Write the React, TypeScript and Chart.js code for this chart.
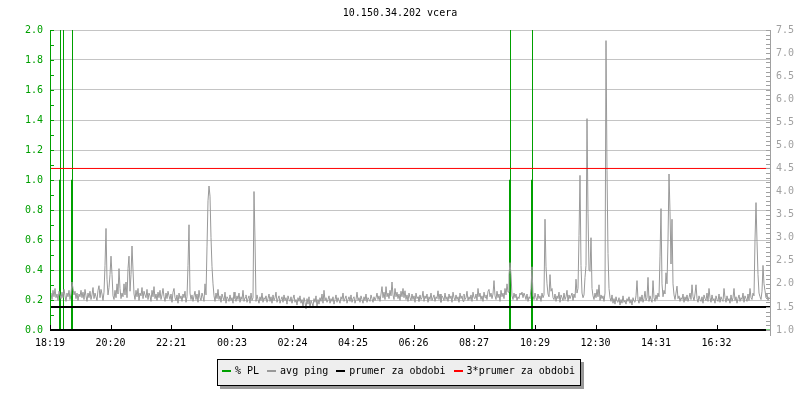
import React, { useEffect, useRef } from "react";
import { Chart, registerables } from "chart.js";

Chart.register(...registerables);

const TITLE = "10.150.34.202 vcera";
const START_TIME = "18:19";
const SPAN_MINUTES = 1440;

// x-axis tick labels (clock time)
const timeLabels = [
  "18:19", "20:20", "22:21", "00:23", "02:24", "04:25",
  "06:26", "08:27", "10:29", "12:30", "14:31", "16:32",
];

// avg ping [ms], one sample every 2 minutes starting at 18:19
const PING_STEP_MIN = 2;
const pingMs = [
  1.74, 1.80, 1.66, 1.86, 1.72, 1.90, 1.70, 1.78, 1.64, 1.84, 1.76, 1.68,
  1.82, 1.70, 1.88, 1.74, 1.62, 1.80, 1.72, 1.86, 1.66, 1.78, 2.04, 1.90,
  1.76, 1.84, 1.68, 1.80, 1.64, 1.78, 1.72, 1.86, 1.70, 1.82, 1.66, 1.88,
  1.74, 1.62, 1.80, 1.70, 1.84, 1.66, 1.76, 1.92, 1.68, 1.80, 1.72, 1.64,
  1.86, 1.96, 1.70, 1.88, 1.78, 1.64, 1.82, 2.40, 3.20, 2.10, 1.76, 1.92,
  2.20, 2.60, 2.20, 1.74, 1.66, 1.86, 1.70, 2.00, 1.78, 2.33, 1.90, 1.68,
  1.80, 1.72, 2.00, 1.76, 2.04, 1.70, 2.33, 2.60, 1.84, 2.20, 2.82, 2.30,
  1.78, 1.66, 1.86, 1.72, 1.90, 1.64, 1.80, 1.74, 1.92, 1.68, 1.84, 1.76,
  1.70, 1.88, 1.66, 1.80, 1.74, 1.62, 1.86, 1.72, 1.94, 1.68, 1.78, 1.64,
  1.82, 1.70, 1.86, 1.66, 1.76, 1.90, 1.72, 1.62, 1.80, 1.68, 1.84, 1.74,
  1.66, 1.78, 1.60, 1.82, 1.90, 1.70, 1.64, 1.76, 1.58, 1.80, 1.68, 1.74,
  1.62, 1.78, 1.70, 1.84, 1.60, 1.72, 2.40, 3.28, 1.80, 1.66, 1.76, 1.62,
  1.74, 1.84, 1.66, 1.78, 1.60, 1.86, 1.70, 1.64, 1.80, 1.72, 1.62, 2.00,
  1.76, 2.80, 3.80, 4.12, 3.90, 3.00, 2.37, 2.00, 1.74, 1.62, 1.80, 1.68,
  1.88, 1.66, 1.74, 1.60, 1.78, 1.70, 1.64, 1.82, 1.58, 1.72, 1.68, 1.62,
  1.76, 1.64, 1.70, 1.58, 1.82, 1.68, 1.62, 1.74, 1.66, 1.80, 1.60, 1.72,
  1.66, 1.86, 1.62, 1.70, 1.76, 1.60, 1.68, 1.74, 1.58, 1.80, 1.64, 1.70,
  4.00, 2.95, 1.62, 1.76, 1.66, 1.58, 1.72, 1.64, 1.80, 1.60, 1.70, 1.66,
  1.74, 1.60, 1.68, 1.78, 1.62, 1.72, 1.58, 1.76, 1.64, 1.70, 1.82, 1.60,
  1.68, 1.74, 1.58, 1.66, 1.72, 1.60, 1.76, 1.64, 1.70, 1.56, 1.74, 1.66,
  1.62, 1.72, 1.58, 1.68, 1.76, 1.60, 1.66, 1.54, 1.70, 1.62, 1.74, 1.58,
  1.66, 1.50, 1.70, 1.60, 1.46, 1.68, 1.56, 1.72, 1.48, 1.64, 1.58, 1.52,
  1.68, 1.60, 1.74, 1.50, 1.66, 1.56, 1.70, 1.62, 1.78, 1.58, 1.86, 1.64,
  1.70, 1.60, 1.66, 1.74, 1.58, 1.68, 1.62, 1.72, 1.56, 1.66, 1.76, 1.60,
  1.70, 1.64, 1.58, 1.72, 1.66, 1.80, 1.62, 1.68, 1.74, 1.58, 1.66, 1.72,
  1.62, 1.76, 1.60, 1.68, 1.72, 1.58, 1.66, 1.82, 1.64, 1.70, 1.60, 1.74,
  1.66, 1.58, 1.72, 1.64, 1.78, 1.60, 1.70, 1.66, 1.62, 1.76, 1.68, 1.60,
  1.72, 1.64, 1.70, 1.80, 1.66, 1.74, 1.62, 1.78, 1.94, 1.70, 1.82, 1.66,
  1.94, 1.72, 1.80, 1.68, 1.86, 1.74, 2.04, 1.76, 1.66, 1.90, 1.72, 1.82,
  1.68, 1.78, 1.64, 1.84, 1.72, 1.90, 1.70, 1.85, 1.66, 1.76, 1.62, 1.80,
  1.70, 1.64, 1.78, 1.66, 1.74, 1.60, 1.80, 1.68, 1.72, 1.62, 1.76, 1.66,
  1.70, 1.84, 1.62, 1.74, 1.68, 1.78, 1.60, 1.72, 1.66, 1.80, 1.64, 1.70,
  1.76, 1.62, 1.72, 1.68, 1.85, 1.66, 1.78, 1.60, 1.74, 1.70, 1.64, 1.80,
  1.66, 1.72, 1.62, 1.78, 1.68, 1.74, 1.60, 1.82, 1.70, 1.64, 1.76, 1.66,
  1.72, 1.60, 1.80, 1.68, 1.74, 1.62, 1.78, 1.66, 1.70, 1.84, 1.64, 1.72,
  1.66, 1.76, 1.62, 1.82, 1.70, 1.68, 1.78, 1.64, 1.90, 1.72, 1.80, 1.66,
  1.74, 1.62, 1.82, 1.70, 1.76, 1.66, 1.84, 1.88, 1.72, 1.80, 1.68, 1.78,
  2.07, 1.74, 1.66, 1.84, 1.70, 1.78, 1.62, 1.86, 1.72, 1.80, 1.68, 1.90,
  1.76, 2.00, 1.82, 2.20, 2.46, 2.20, 1.74, 1.66, 1.80, 1.70, 1.78, 1.64,
  1.72, 1.68, 1.80, 1.76, 1.82, 1.70, 1.80, 1.74, 1.66, 1.78, 1.62, 1.72,
  1.68, 1.90, 2.37, 1.74, 1.66, 1.80, 1.70, 1.64, 1.78, 1.68, 1.74, 1.62,
  1.80, 1.70, 1.76, 3.40, 2.37, 2.00, 1.78, 1.72, 2.20, 1.84, 1.90, 1.70,
  1.66, 1.78, 1.62, 1.74, 1.68, 1.82, 1.60, 1.76, 1.70, 1.64, 1.80, 1.66,
  1.72, 1.86, 1.62, 1.76, 1.68, 1.74, 1.80, 1.64, 1.78, 1.70, 2.10, 1.80,
  1.90, 3.05, 4.35, 2.40, 1.80, 1.70, 1.76, 2.14, 2.40, 5.58, 3.53, 2.30,
  2.27, 3.00, 1.90, 1.74, 1.66, 1.80, 1.70, 1.88, 1.72, 1.98, 1.64, 1.76,
  1.68, 1.74, 1.62, 1.80, 7.27, 4.45, 2.66, 1.90, 1.70, 1.62, 1.76, 1.58,
  1.68, 1.56, 1.72, 1.62, 1.60, 1.70, 1.54, 1.66, 1.58, 1.74, 1.60, 1.64,
  1.56, 1.68, 1.62, 1.72, 1.58, 1.66, 1.54, 1.70, 1.62, 1.60, 1.74, 2.07,
  1.66, 1.58, 1.72, 1.62, 1.76, 1.60, 1.68, 1.84, 1.64, 1.70, 2.14, 1.62,
  1.74, 1.66, 1.60, 2.07, 1.70, 1.62, 1.76, 1.66, 1.80, 1.72, 2.60, 3.63,
  2.00, 1.72, 1.86, 1.78, 2.24, 2.00, 2.95, 4.38, 3.57, 2.43, 3.40, 2.00,
  1.76, 1.66, 1.80, 1.95, 1.68, 1.74, 1.62, 1.70, 1.66, 1.78, 1.60, 1.72,
  1.64, 1.76, 1.62, 1.70, 1.80, 1.66, 1.98, 1.72, 1.64, 1.78, 1.98, 1.68,
  1.60, 1.74, 1.66, 1.62, 1.72, 1.58, 1.76, 1.68, 1.64, 1.80, 1.62, 1.90,
  1.70, 1.60, 1.76, 1.64, 1.68, 1.58, 1.74, 1.66, 1.62, 1.78, 1.60, 1.72,
  1.66, 1.62, 1.90, 1.70, 1.60, 1.74, 1.64, 1.68, 1.58, 1.76, 1.62, 1.70,
  1.90, 1.64, 1.72, 1.58, 1.68, 1.76, 1.62, 1.70, 1.66, 1.80, 1.60, 1.74,
  1.68, 1.62, 1.78, 1.64, 1.90, 1.70, 1.66, 1.80, 1.74, 2.95, 3.76, 2.92,
  2.20, 1.80, 1.72, 1.66, 1.84, 2.40, 2.00, 1.85, 1.70, 1.78, 1.64, 1.72,
];

// % packet loss path (minutes after start, value)
const plMinutes = [
  0, 19, 19, 21, 21, 21, 27, 27, 27,
  43, 43, 45, 45, 45,
  919, 919, 921, 921, 921,
  963, 963, 965, 965, 965,
  1440,
];
const plValues = [
  0, 0, 1, 1, 100, 0, 0, 100, 0,
  0, 1, 1, 100, 0,
  0, 1, 1, 100, 0,
  0, 1, 1, 100, 0,
  0,
];

const AVG_MS = 1.5; // prumer za obdobi
const AVG3_MS = 4.5; // 3*prumer za obdobi

const legendNames = ["% PL", "avg ping", "prumer za obdobi", "3*prumer za obdobi"];

const GREEN = "#00a000";
const GRAY_LINE = "#999999";
const GRAY_AXIS = "#a0a0a0";
const GRID = "#c4c4c4";
const RED = "#ff0000";
const FONT = "'DejaVu Sans Mono', monospace";

function minutesFromStart(label: string): number {
  const [h, m] = label.split(":").map(Number);
  const [h0, m0] = START_TIME.split(":").map(Number);
  let d = h * 60 + m - (h0 * 60 + m0);
  if (d < 0) d += 1440;
  return d;
}
const tickMinutes = timeLabels.map(minutesFromStart);

const axisDeco = {
  id: "axisDeco",
  afterDatasetsDraw(chart: any) {
    const { ctx, chartArea: a, scales } = chart;
    const yl = scales.yL;
    const yr = scales.yR;
    const xs = scales.x;
    ctx.save();
    ctx.lineWidth = 1;
    ctx.strokeStyle = GREEN;
    for (let k = 0; k <= 20; k++) {
      const py = Math.round(yl.getPixelForValue(k / 10)) + 0.5;
      ctx.beginPath();
      ctx.moveTo(a.left, py);
      ctx.lineTo(a.left + 4, py);
      ctx.stroke();
    }
    ctx.beginPath();
    ctx.moveTo(a.left + 0.5, a.top);
    ctx.lineTo(a.left + 0.5, a.bottom);
    ctx.stroke();
    ctx.strokeStyle = GRAY_AXIS;
    for (let k = 10; k <= 75; k++) {
      const py = Math.round(yr.getPixelForValue(k / 10)) + 0.5;
      ctx.beginPath();
      ctx.moveTo(a.right - 4, py);
      ctx.lineTo(a.right, py);
      ctx.stroke();
    }
    ctx.beginPath();
    ctx.moveTo(a.right + 0.5, a.top);
    ctx.lineTo(a.right + 0.5, a.bottom + 6);
    ctx.stroke();
    ctx.strokeStyle = "#000";
    ctx.lineWidth = 2;
    ctx.beginPath();
    ctx.moveTo(a.left, a.bottom);
    ctx.lineTo(a.right - 4, a.bottom);
    ctx.stroke();
    ctx.lineWidth = 1;
    tickMinutes.forEach((m) => {
      const px = Math.round(xs.getPixelForValue(m)) + 0.5;
      ctx.beginPath();
      ctx.moveTo(px, a.bottom);
      ctx.lineTo(px, a.bottom - 5);
      ctx.stroke();
    });
    ctx.restore();
  },
};

export default function App() {
  const ref = useRef<HTMLCanvasElement | null>(null);

  useEffect(() => {
    if (!ref.current) return;
    const font = { family: FONT, size: 10 };
    const chart = new Chart(ref.current, {
      type: "line",
      data: {
        datasets: [
          {
            label: legendNames[0],
            data: plMinutes.map((m, i) => ({ x: m, y: plValues[i] })),
            yAxisID: "yL",
            borderColor: GREEN,
            borderWidth: 1,
            pointRadius: 0,
            tension: 0,
            clip: 0,
            order: 4,
          },
          {
            label: legendNames[1],
            data: pingMs.map((v, i) => ({ x: i * PING_STEP_MIN, y: v })),
            yAxisID: "yR",
            borderColor: GRAY_LINE,
            borderWidth: 1,
            pointRadius: 0,
            tension: 0,
            clip: 0,
            order: 3,
          },
          {
            label: legendNames[2],
            data: [
              { x: 0, y: AVG_MS },
              { x: SPAN_MINUTES, y: AVG_MS },
            ],
            yAxisID: "yR",
            borderColor: "#000000",
            borderWidth: 2,
            pointRadius: 0,
            clip: 0,
            order: 2,
          },
          {
            label: legendNames[3],
            data: [
              { x: 0, y: AVG3_MS },
              { x: SPAN_MINUTES, y: AVG3_MS },
            ],
            yAxisID: "yR",
            borderColor: RED,
            borderWidth: 1,
            pointRadius: 0,
            clip: 0,
            order: 1,
          },
        ],
      },
      options: {
        responsive: false,
        animation: false,
        devicePixelRatio: 1,
        layout: { padding: 0 },
        plugins: {
          legend: { display: false },
          tooltip: { enabled: false },
          title: {
            display: true,
            text: TITLE,
            color: "#000",
            font: { family: FONT, size: 10, weight: "normal" },
            padding: { top: 7, bottom: 11 },
          },
        },
        scales: {
          x: {
            type: "linear",
            min: 0,
            max: SPAN_MINUTES,
            grid: { display: false },
            border: { display: false },
            afterBuildTicks: (s: any) => {
              s.ticks = tickMinutes.map((v) => ({ value: v }));
            },
            ticks: {
              autoSkip: false,
              maxRotation: 0,
              color: "#000",
              font,
              padding: -1,
              callback: (_v: any, i: number) => timeLabels[i],
            },
            afterFit: (s: any) => {
              s.height = 70;
            },
          },
          yL: {
            type: "linear",
            position: "left",
            min: 0,
            max: 2,
            grid: { color: GRID, drawTicks: false, lineWidth: 1 },
            border: { display: false },
            ticks: {
              stepSize: 0.2,
              color: GREEN,
              font,
              padding: 7,
              callback: (v: any) => Number(v).toFixed(1),
            },
            afterFit: (s: any) => {
              s.width = 50;
            },
          },
          yR: {
            type: "linear",
            position: "right",
            min: 1,
            max: 7.5,
            grid: { drawOnChartArea: false, drawTicks: false },
            border: { display: false },
            ticks: {
              stepSize: 0.5,
              color: GRAY_AXIS,
              font,
              padding: 6,
              callback: (v: any) => Number(v).toFixed(1),
            },
            afterFit: (s: any) => {
              s.width = 30;
            },
          },
        },
      },
      plugins: [axisDeco],
    } as any);
    return () => chart.destroy();
  }, []);

  const swatchColors = [GREEN, GRAY_LINE, "#000000", RED];

  return (
    <div style={{ position: "fixed", left: 0, top: 0, width: 800, height: 400, background: "#fff" }}>
      <canvas ref={ref} width={800} height={400} style={{ display: "block", width: 800, height: 400 }} />
      <div
        style={{
          position: "absolute",
          left: 217,
          top: 359,
          width: 358,
          height: 25,
          border: "1px solid #000",
          background: "#eeeeee",
          boxShadow: "3px 3px 0 #999999",
          fontFamily: FONT,
          fontSize: 10,
          color: "#000",
          display: "flex",
          alignItems: "center",
          paddingLeft: 4,
          boxSizing: "content-box",
        }}
      >
        <div style={{ display: "flex", alignItems: "center", marginTop: -3 }}>
          {legendNames.map((n, i) => (
            <span key={n} style={{ display: "flex", alignItems: "center", marginRight: 8 }}>
              <span style={{ display: "inline-block", width: 9, height: 2, background: swatchColors[i], marginRight: 4 }} />
              <span style={{ whiteSpace: "pre", lineHeight: "12px" }}>{n}</span>
            </span>
          ))}
        </div>
      </div>
    </div>
  );
}
